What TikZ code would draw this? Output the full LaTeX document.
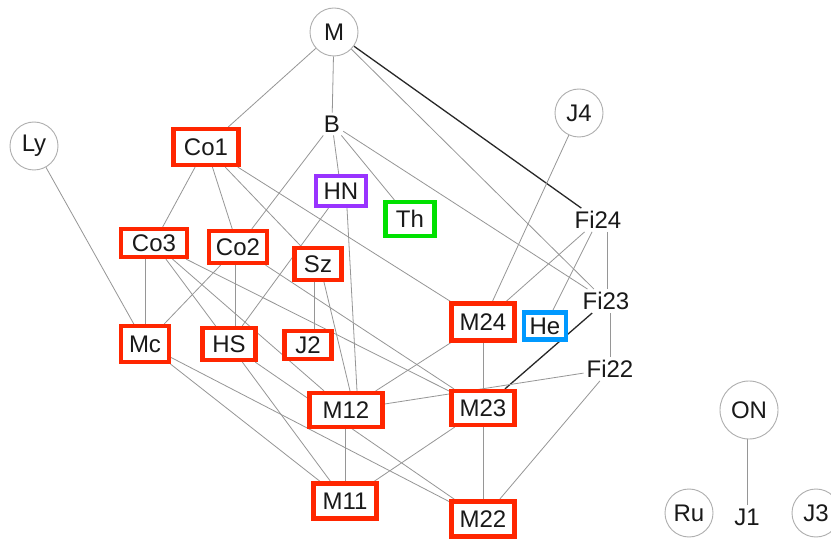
\documentclass[tikz,border=0pt]{standalone}
\usepackage{fontspec}
\setmainfont{Liberation Sans}
\usetikzlibrary{backgrounds}
\definecolor{boxred}{RGB}{255,38,0}
\definecolor{boxpurple}{RGB}{153,51,255}
\definecolor{boxgreen}{RGB}{0,225,0}
\definecolor{boxblue}{RGB}{0,153,255}
\definecolor{edgegray}{RGB}{150,150,150}
\definecolor{circgray}{RGB}{175,175,175}
\definecolor{darkedge}{RGB}{40,40,40}
\definecolor{txt}{RGB}{25,25,25}
\begin{document}
\begin{tikzpicture}[x=1pt,y=-1pt,
  every node/.style={font=\fontsize{24}{28}\selectfont, text=txt},
  cbox/.style={rectangle, fill=white, line width=4.2pt, inner sep=0pt},
  rbox/.style={cbox, draw=boxred},
  pbox/.style={cbox, draw=boxpurple},
  gbox/.style={cbox, draw=boxgreen},
  bbox/.style={cbox, draw=boxblue},
  circ/.style={circle, draw=circgray, line width=0.9pt, fill=white, inner sep=0pt, minimum size=48pt},
  plain/.style={inner sep=3pt},
  edge/.style={draw=edgegray, line width=0.8pt},
  darkline/.style={draw=darkedge, line width=1.3pt}
]
\useasboundingbox (0,0) rectangle (831,540);
% circles
\node[circ] (M) at (334,32) {M};
\node[circ] (Ly) at (34,146) {Ly};
\node[circ] (J4) at (579,113) {J4};
\node[circ, minimum size=58pt] (ON) at (749,410) {ON};
\node[circ] (Ru) at (689,513) {Ru};
\node[circ] (J3) at (816,513) {J3};
% plain text
\node[plain] (B) at (332,124) {B};
\node[plain] (Fi24) at (598,220) {Fi24};
\node[plain] (Fi23) at (606,301) {Fi23};
\node[plain] (Fi22) at (610,369) {Fi22};
\node[plain] (J1) at (747,517) {J1};
% boxes
\node[rbox, minimum width=65pt, minimum height=36pt] (Co1) at (206,147) {Co1};
\node[pbox, minimum width=50pt, minimum height=30pt] (HN) at (341,191) {HN};
\node[gbox, minimum width=49pt, minimum height=34pt] (Th) at (410,219) {Th};
\node[rbox, minimum width=66pt, minimum height=28pt] (Co3) at (154,243) {Co3};
\node[rbox, minimum width=58pt, minimum height=32pt] (Co2) at (238,247) {Co2};
\node[rbox, minimum width=47pt, minimum height=32pt] (Sz) at (318,264) {Sz};
\node[rbox, minimum width=48pt, minimum height=36pt] (Mc) at (145,344) {Mc};
\node[rbox, minimum width=53pt, minimum height=32pt] (HS) at (229,344) {HS};
\node[rbox, minimum width=47pt, minimum height=28pt] (J2) at (308,345) {J2};
\node[rbox, minimum width=63pt, minimum height=37pt] (M24) at (483,322) {M24};
\node[bbox, minimum width=42pt, minimum height=27pt] (He) at (545,326) {He};
\node[rbox, minimum width=73pt, minimum height=34pt] (M12) at (346,410) {M12};
\node[rbox, minimum width=63pt, minimum height=34pt] (M23) at (483,408) {M23};
\node[rbox, minimum width=63pt, minimum height=35pt] (M11) at (345,501) {M11};
\node[rbox, minimum width=63pt, minimum height=35pt] (M22) at (483,519) {M22};
\begin{pgfonlayer}{background}
\fill[white] (0,0) rectangle (831,540);
% edges
\draw[edge] (M) -- (Co1);
\draw[edge] (M) -- (B);
\draw[darkline] (M) -- (Fi24);
\draw[edge] (M) -- (Fi23);
\draw[edge] (B) -- (Co2);
\draw[edge] (B) -- (HN);
\draw[edge] (B) -- (Th);
\draw[edge] (B) -- (Fi23);
\draw[edge] (Ly) -- (Mc);
\draw[edge] (J4) -- (M24);
\draw[edge] (Co1) -- (Co3);
\draw[edge] (Co1) -- (Co2);
\draw[edge] (Co1) -- (Sz);
\draw[edge] (Co1) -- (M24);
\draw[edge] (HN) -- (HS);
\draw[edge] ([xshift=6pt]HN.south) -- ([xshift=11pt]M12.north);
\draw[edge] (Co3.south -| Mc.north) -- (Mc.north);
\draw[edge] (Co3) -- (HS);
\draw[edge] (Co3) -- (M12);
\draw[edge] (Co3) -- (M23);
\draw[edge] (Co2) -- (Mc);
\draw[edge] ([xshift=-3pt]Co2.south) -- ([xshift=6pt]HS.north);
\draw[edge] (Co2) -- (M23);
\draw[edge] ([xshift=-4pt]Sz.south) -- ([xshift=6pt]J2.north);
\draw[edge] ([xshift=6pt]Sz.south) -- ([xshift=4pt]M12.north);
\draw[edge] ([xshift=9pt]Fi24.south) -- ([xshift=1pt]Fi23.north);
\draw[edge] (Fi24) -- (He);
\draw[edge] (Fi24) -- (M24);
\draw[edge] ([xshift=4pt]Fi23.south) -- (Fi22.north);
\draw[darkline] (Fi23) -- (M23);
\draw[edge] (Fi22) -- (M12);
\draw[edge] (Fi22) -- (M22);
\draw[edge] (M24) -- (M23);
\draw[edge] (M24) -- (M12);
\draw[edge] (M23) -- (M22);
\draw[edge] (M23) -- (M11);
\draw[edge] (M12.south -| M11.north) -- (M11.north);
\draw[edge] (HS) -- (M11);
\draw[edge] (HS) -- (M22);
\draw[edge] (Mc) -- (M11);
\draw[edge] (Mc) -- (M22);
\draw[edge] (ON.south -| J1.north) -- (J1.north);
\end{pgfonlayer}
\end{tikzpicture}
\end{document}
